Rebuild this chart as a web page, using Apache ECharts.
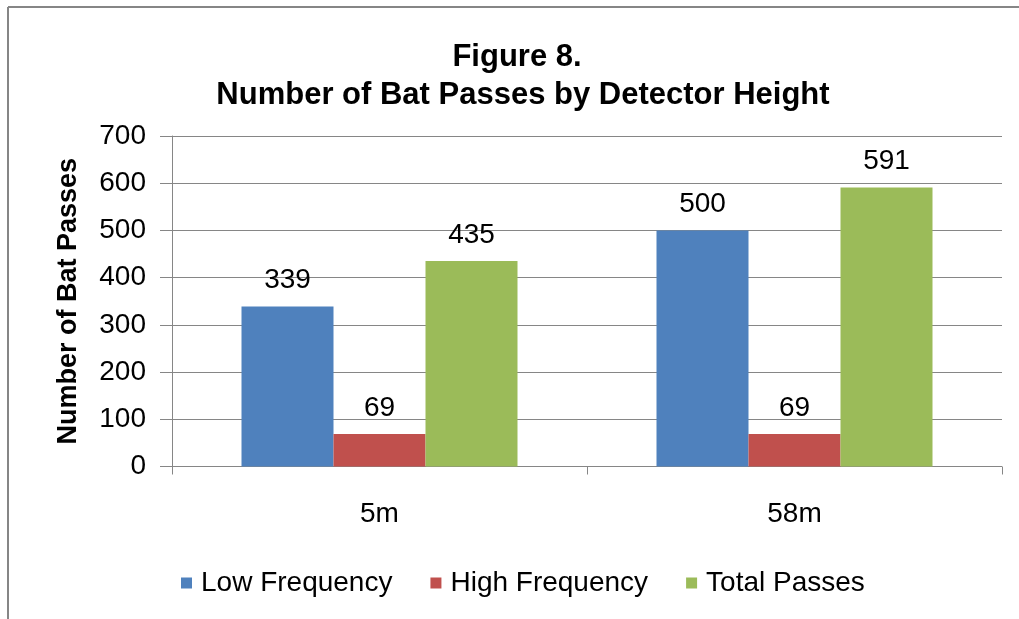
<!DOCTYPE html>
<html>
<head>
<meta charset="utf-8">
<script src="https://cdn.jsdelivr.net/npm/echarts@6/dist/echarts.min.js"></script>
<style>
html,body{margin:0;padding:0;background:#fff;overflow:hidden;}
#chart{width:1019px;height:619px;}
</style>
</head>
<body>
<div id="chart"></div>
<script>
const categories = ['5m', '58m'];
const lowFrequency = [339, 500];
const highFrequency = [69, 69];
const totalPasses = [435, 591];
const seriesNames = ['Low Frequency', 'High Frequency', 'Total Passes'];
const titleLines = ['Figure 8.', 'Number of Bat Passes by Detector Height'];
const yAxisTitle = 'Number of Bat Passes';

const FONT = '"Liberation Sans", Arial, sans-serif';
const colors = ['#4F81BD', '#C0504D', '#9BBB59'];

const chart = echarts.init(document.getElementById('chart'), null, {renderer: 'canvas'});

function barSeries(name, data, color) {
  return {
    name: name,
    type: 'bar',
    data: data,
    barWidth: 92,
    barGap: '0%',
    itemStyle: {color: color},
    label: {
      show: true,
      position: 'top',
      distance: 12,
      color: '#000',
      fontSize: 28,
      fontFamily: FONT
    }
  };
}

chart.setOption({
  animation: false,
  backgroundColor: '#fff',
  color: colors,
  graphic: [
    {type: 'line', shape: {x1: 8, y1: 7, x2: 1019, y2: 7},
     style: {stroke: '#868686', lineWidth: 2}, silent: true},
    {type: 'line', shape: {x1: 8, y1: 7, x2: 8, y2: 619},
     style: {stroke: '#868686', lineWidth: 2}, silent: true},
    {type: 'text', x: 517, y: 57,
     style: {text: titleLines[0], fontSize: 31, fontWeight: 'bold', fontFamily: FONT, fill: '#000',
             align: 'center', verticalAlign: 'middle'}},
    {type: 'text', x: 523, y: 95,
     style: {text: titleLines[1], fontSize: 31, fontWeight: 'bold', fontFamily: FONT, fill: '#000',
             align: 'center', verticalAlign: 'middle'}}
  ],
  grid: {left: 172, right: 17, top: 136, bottom: 619 - 466.5, containLabel: false},
  legend: {
    data: seriesNames,
    left: 176,
    top: 564,
    icon: 'rect',
    itemWidth: 11,
    itemHeight: 11,
    itemGap: 38,
    textStyle: {fontSize: 28, fontFamily: FONT, color: '#000', padding: [0, 0, 0, 4]}
  },
  xAxis: {
    type: 'category',
    data: categories,
    axisLine: {show: false},
    axisTick: {show: true, length: 8, lineStyle: {color: '#868686'}},
    axisLabel: {margin: 34, fontSize: 28, fontFamily: FONT, color: '#000'},
    splitLine: {show: false}
  },
  yAxis: {
    type: 'value',
    min: 0,
    max: 700,
    interval: 100,
    name: yAxisTitle,
    nameLocation: 'middle',
    nameRotate: 90,
    nameGap: 90,
    nameTextStyle: {fontSize: 27, fontWeight: 'bold', fontFamily: FONT, color: '#000'},
    axisLine: {show: true, lineStyle: {color: '#868686'}},
    axisTick: {show: true, length: 12, lineStyle: {color: '#868686'}},
    axisLabel: {margin: 26, fontSize: 28, fontFamily: FONT, color: '#000'},
    splitLine: {show: true, lineStyle: {color: '#868686', width: 1}}
  },
  series: [
    barSeries(seriesNames[0], lowFrequency, colors[0]),
    barSeries(seriesNames[1], highFrequency, colors[1]),
    barSeries(seriesNames[2], totalPasses, colors[2])
  ]
});
</script>
</body>
</html>
